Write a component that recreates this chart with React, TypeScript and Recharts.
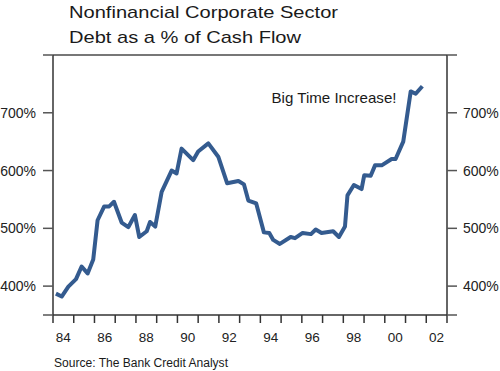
import React from 'react';
import { LineChart, Line, XAxis, YAxis, ReferenceLine } from 'recharts';

const years = [
  1984.14, 1984.42, 1984.74, 1985.11, 1985.38, 1985.67, 1985.94, 1986.15, 1986.47, 1986.71,
  1986.94, 1987.31, 1987.63, 1987.95, 1988.16, 1988.52, 1988.68, 1988.93, 1989.24, 1989.72,
  1989.96, 1990.2, 1990.76, 1991.0, 1991.49, 1991.97, 1992.4, 1992.94, 1993.21, 1993.42,
  1993.8, 1994.17, 1994.43, 1994.62, 1994.94, 1995.46, 1995.67, 1996.04, 1996.44, 1996.67,
  1996.95, 1997.51, 1997.79, 1998.08, 1998.2, 1998.51, 1998.88, 1999.01, 1999.32, 1999.53,
  1999.85, 2000.33, 2000.52, 2000.89, 2001.25, 2001.49, 2001.81,
];
const debtPct = [
  387, 382, 399, 412, 434, 422, 446, 514, 538, 538,
  546, 510, 502, 523, 485, 495, 511, 503, 563, 600,
  595, 638, 618, 633, 647, 624, 578, 582, 576, 548,
  543, 493, 492, 480, 473, 485, 483, 492, 490, 498,
  492, 495, 485, 503, 557, 575, 568, 592, 591, 609,
  609, 620, 620, 650, 737, 733, 746,
];
const yTicks = [350, 400, 500, 600, 700, 800];
const xTickYears = [
  1984, 1985, 1986, 1987, 1988, 1989, 1990, 1991, 1992, 1993,
  1994, 1995, 1996, 1997, 1998, 1999, 2000, 2001, 2002, 2003,
];
const xLabelYears = [1984, 1986, 1988, 1990, 1992, 1994, 1996, 1998, 2000, 2002];
const titleLines = ['Nonfinancial Corporate Sector', 'Debt as a % of Cash Flow'];
const sourceText = 'Source: The Bank Credit Analyst';
const noteText = 'Big Time Increase!';

const data = years.map((y, i) => ({ year: y, value: debtPct[i] }));

const FONT = '"Liberation Sans", Arial, Helvetica, sans-serif';
const LINE_COLOR = '#345b8f';
const AXIS_COLOR = '#333';

const yFmt = (v: number) => (v === 350 || v === 800 ? '' : `${v}%`);
const xLabFmt = (v: number) => String(Math.floor(v) % 100).padStart(2, '0');

export default function App() {
  return (
    <div style={{ position: 'absolute', left: 0, top: 0, width: 500, height: 371, background: '#fff' }}>
      <LineChart width={500} height={371} data={data} margin={{ top: 55, right: 0, bottom: 26, left: 0 }}>
        <XAxis
          dataKey="year"
          type="number"
          domain={[1984, 2003]}
          ticks={xTickYears}
          interval={0}
          tickFormatter={() => ' '}
          height={1}
          tickSize={8}
          axisLine={{ stroke: AXIS_COLOR, strokeWidth: 1.5 }}
          tickLine={{ stroke: AXIS_COLOR, strokeWidth: 1.5 }}
          tick={{ fontSize: 1 }}
          allowDataOverflow
        />
        <XAxis
          xAxisId="lab"
          dataKey="year"
          type="number"
          domain={[1984, 2003]}
          ticks={xLabelYears.map((y) => y + 0.5)}
          interval={0}
          tickFormatter={xLabFmt}
          height={29}
          tickSize={7}
          tickMargin={9}
          axisLine={false}
          tickLine={false}
          tick={{ fontSize: 13.5, fill: '#222', fontFamily: FONT }}
          allowDataOverflow
        />
        <YAxis
          yAxisId="left"
          orientation="left"
          width={53}
          type="number"
          domain={[350, 800]}
          ticks={yTicks}
          interval={0}
          tickFormatter={yFmt}
          tickSize={10}
          tickMargin={7}
          axisLine={{ stroke: AXIS_COLOR, strokeWidth: 1.5 }}
          tickLine={{ stroke: '#555', strokeWidth: 1.5 }}
          tick={{ fontSize: 14, fill: '#222', fontFamily: FONT }}
          allowDataOverflow
        />
        <YAxis
          yAxisId="right"
          orientation="right"
          width={53}
          type="number"
          domain={[350, 800]}
          ticks={yTicks}
          interval={0}
          tickFormatter={yFmt}
          tickSize={10}
          tickMargin={6}
          axisLine={{ stroke: AXIS_COLOR, strokeWidth: 1.5 }}
          tickLine={{ stroke: '#555', strokeWidth: 1.5 }}
          tick={{ fontSize: 14, fill: '#222', fontFamily: FONT }}
          allowDataOverflow
        />
        <ReferenceLine yAxisId="left" y={800} stroke="#777" strokeWidth={2} />
        <Line
          yAxisId="left"
          type="linear"
          dataKey="value"
          stroke={LINE_COLOR}
          strokeWidth={4}
          dot={false}
          strokeLinejoin="round"
          isAnimationActive={false}
        />
      </LineChart>
      <svg width={500} height={371} style={{ position: 'absolute', left: 0, top: 0, pointerEvents: 'none' }}>
        <g fontFamily={FONT} fill="#1a1a1a">
          <text x={69} y={17.5} fontSize={17} textLength={269} lengthAdjust="spacingAndGlyphs">{titleLines[0]}</text>
          <text x={69} y={43} fontSize={17} textLength={232} lengthAdjust="spacingAndGlyphs">{titleLines[1]}</text>
          <text x={271.5} y={103.3} fontSize={15} textLength={125} lengthAdjust="spacingAndGlyphs">{noteText}</text>
          <text x={54} y={367} fontSize={12.3} textLength={174} lengthAdjust="spacingAndGlyphs">{sourceText}</text>
        </g>
      </svg>
    </div>
  );
}
